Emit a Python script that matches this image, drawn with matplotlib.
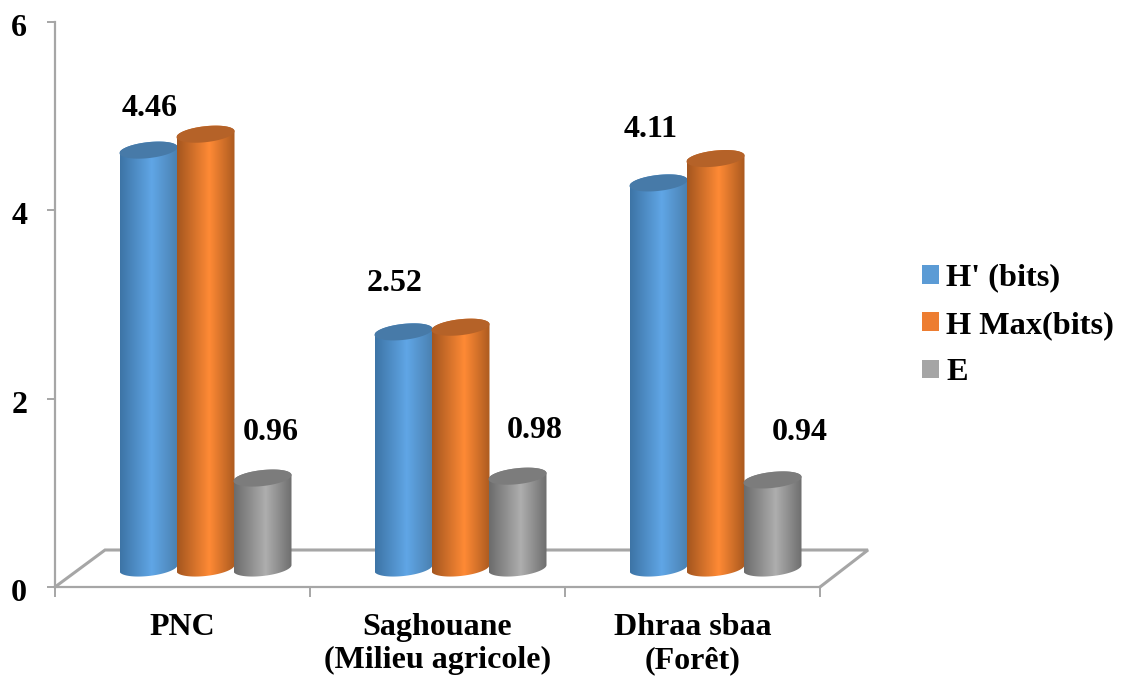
#!/usr/bin/env python3
# plot.py - diversity indices per site, drawn as 3D-looking cylinders

import numpy as np
import matplotlib
matplotlib.use("Agg")
import matplotlib.pyplot as plt
from matplotlib.colors import LinearSegmentedColormap
from matplotlib.patches import Patch, Polygon
from matplotlib.transforms import ScaledTranslation

sites = ["PNC", "Saghouane\n(Milieu agricole)", "Dhraa sbaa\n(Forêt)"]
series_names = ["H' (bits)", "H Max(bits)", "E"]
h_shannon = [4.46, 2.52, 4.11]
h_max = [4.63, 2.57, 4.37]
evenness = [0.96, 0.98, 0.94]
y_ticks = [0, 2, 4, 6]

W, H = 1121, 677
X0, X1, Y0, Y1 = 55, 820, 587, 22  # axes corners in pixels
PX_X = (X1 - X0) / 3
PX_Y = (Y0 - Y1) / 6

GREY = "#a6a6a6"
FONT = "Liberation Serif"

# left edge, middle and right edge of each cylinder, then lid and legend colour
shades = [
    ("#3d74a6", "#60a6e6", "#4a80b0", "#477aa8", "#5b9bd5"),
    ("#a4561f", "#ff8a35", "#a9591f", "#b56228", "#ed7d31"),
    ("#6c6c6c", "#aeaeae", "#6e6e6e", "#7c7c7c", "#a5a5a5"),
]

# cylinder geometry, in data units
half_w = 29 / PX_X
first_c = 93.5 / PX_X
step = 57 / PX_X
base = 19 / PX_Y
tilt = 3 / PX_Y
squash = 8 / PX_Y
v_scale = 0.995


def cylinder(ax, cx, value, colours):
    left, mid, right, lid, _ = colours
    top = base + value * v_scale
    t = np.linspace(0, np.pi, 60)
    # outline: lower rim from right to left, then back along the upper rim
    low_x = cx + half_w * np.cos(t)
    low_y = base + tilt * np.cos(t) - squash * np.sin(t)
    up_x = cx - half_w * np.cos(t)
    up_y = top - tilt * np.cos(t) + squash * np.sin(t)
    outline = np.column_stack([np.r_[low_x, up_x], np.r_[low_y, up_y]])
    body = Polygon(outline, closed=True, fc="none", ec="none", zorder=3, clip_on=False)
    ax.add_patch(body)

    cmap = LinearSegmentedColormap.from_list("c", [(0, left), (0.55, mid), (1, right)])
    img = ax.imshow(np.linspace(0, 1, 128)[None, :], cmap=cmap, aspect="auto",
                    extent=(cx - half_w, cx + half_w, base - 0.3, top + 0.3),
                    zorder=3, clip_on=True)
    img.set_clip_path(body)

    # lid
    s = np.linspace(0, 2 * np.pi, 120)
    ax.fill(cx + half_w * np.cos(s), top + tilt * np.cos(s) + squash * np.sin(s),
            color=lid, lw=0, zorder=3, clip_on=False)


fig = plt.figure(figsize=(W / 100, H / 100), dpi=100)
ax = fig.add_axes([X0 / W, 1 - Y0 / H, (X1 - X0) / W, (Y0 - Y1) / H])
ax.set_xlim(0, 3)
ax.set_ylim(0, 6)

# floor of the 3D box
depth_x = 50 / PX_X
depth_y = 37 / PX_Y
ax.plot([0, depth_x, 3 + depth_x - 2 / PX_X, 3], [0, depth_y, depth_y, 0],
        color=GREY, lw=2.2, zorder=1, clip_on=False, solid_joinstyle="miter")

all_series = [h_shannon, h_max, evenness]
for i in range(3):
    for j, vals in enumerate(all_series):
        cylinder(ax, i + first_c + j * step, vals[i], shades[j])
ax.set_xlim(0, 3)
ax.set_ylim(0, 6)

# value labels sit at their own offsets from the bars, in pixels
label_dx = [[1, 8], [-9, 17], [-8, 27]]
label_dy = [[42, 46], [48, 46], [53, 47]]
for i in range(3):
    for k, (j, vals) in enumerate([(0, h_shannon), (2, evenness)]):
        cx = i + first_c + j * step + label_dx[i][k] / PX_X
        y = base + vals[i] * v_scale + label_dy[i][k] / PX_Y
        ax.text(cx, y, f"{vals[i]:.2f}", ha="center", va="center", family=FONT,
                weight="bold", fontsize=23, color="black", zorder=4)

for side in ("top", "right"):
    ax.spines[side].set_visible(False)
for side in ("left", "bottom"):
    ax.spines[side].set_color(GREY)
    ax.spines[side].set_linewidth(1.6)
ax.patch.set_visible(False)

ax.set_yticks(y_ticks)
ax.set_yticklabels([str(v) for v in y_ticks], family=FONT, weight="bold", fontsize=23)
ax.tick_params(axis="y", length=6, width=1.4, color=GREY, pad=14)
down = ScaledTranslation(0, -3 / 100, fig.dpi_scale_trans)
for lab in ax.get_yticklabels():
    lab.set_transform(lab.get_transform() + down)
ax.set_xticks([0, 1, 2, 3])
ax.set_xticklabels([])
ax.tick_params(axis="x", which="major", length=7, width=1.4, color=GREY)
ax.set_xticks([0.5, 1.5, 2.5], minor=True)
ax.set_xticklabels(sites, minor=True, family=FONT, weight="bold", fontsize=23,
                   linespacing=1.17)
ax.tick_params(axis="x", which="minor", length=0, pad=19)

handles = [Patch(fc=shades[j][4], ec="none") for j in range(3)]
fig.legend(handles, series_names, loc="center left", bbox_to_anchor=(922 / W, 1 - 325.5 / H),
           frameon=False, prop={"family": FONT, "weight": "bold", "size": 23.3},
           handlelength=0.52, handleheight=0.52, handletextpad=0.22,
           labelspacing=0.57, borderpad=0, borderaxespad=0)

fig.savefig("out.png", dpi=100)
